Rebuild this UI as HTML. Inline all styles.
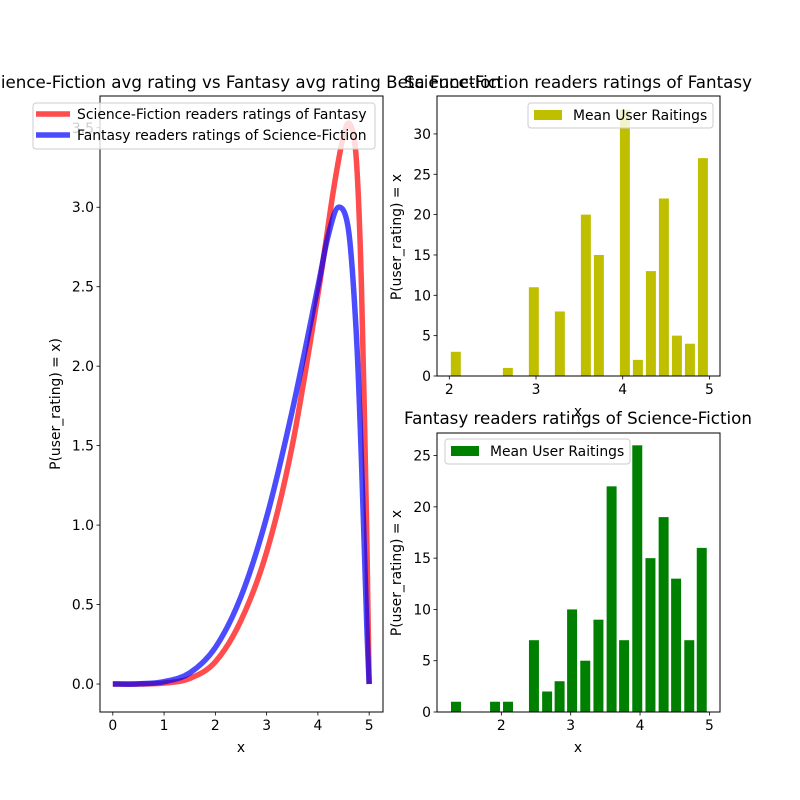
<!DOCTYPE html>
<html><head><meta charset="utf-8"><style>
html,body{margin:0;padding:0;background:#fff;}
svg{display:block;font-family:"DejaVu Sans","Liberation Sans",sans-serif;}
</style></head><body>
<svg id="fig" width="800" height="800" viewBox="0 0 800 800"></svg>
<script>
// ---- data ----
const curveX = [0,0.5,1,1.5,2,2.5,3,3.5,4,4.2,4.4,4.6,4.75,4.85,4.95,5];
const blueVals = [0,0.001,0.015,0.07,0.23,0.55,1.05,1.72,2.5,2.82,3.0,2.85,2.2,1.4,0.4,0];
const redX = [0,0.5,1,1.5,2,2.5,3,3.5,4,4.3,4.5,4.63,4.75,4.85,4.95,5];
const redVals = [0,0,0.006,0.035,0.14,0.4,0.83,1.5,2.45,3.1,3.45,3.52,3.3,2.5,1.0,0];
const leftXTicks = [0,1,2,3,4,5];
const leftYTicks = [0,0.5,1,1.5,2,2.5,3,3.5];

const topCats = [2.075,2.675,2.975,3.275,3.575,3.725,4.025,4.175,4.325,4.475,4.625,4.775,4.925];
const topVals = [3,1,11,8,20,15,33,2,13,22,5,4,27];
const topXTicks = [2,3,4,5];
const topYTicks = [0,5,10,15,20,25,30];

const botCats = [1.346,1.909,2.096,2.47,2.66,2.84,3.02,3.21,3.40,3.59,3.77,3.96,4.15,4.34,4.52,4.71,4.89];
const botVals = [1,1,1,7,2,3,10,5,9,22,7,26,15,19,13,7,16];
const botXTicks = [2,3,4,5];
const botYTicks = [0,5,10,15,20,25];

const NS="http://www.w3.org/2000/svg";
const svg=document.getElementById('fig');
const FS=13.9, TS=16.7;
function mk(tag,attrs,parent){const e=document.createElementNS(NS,tag);for(const k in attrs)e.setAttribute(k,attrs[k]);(parent||svg).appendChild(e);return e;}
function lin(d0,d1,r0,r1){return v=>r0+(v-d0)*(r1-r0)/(d1-d0);}

function axes(box,xd,yd,xt,yt,fmt,name){
  const g=mk('g',{});
  
  
  const sx=lin(xd[0],xd[1],box.x0,box.x1), sy=lin(yd[0],yd[1],box.y1,box.y0);
  xt.forEach(t=>{const x=sx(t);
    const l=mk('line',{x1:x,x2:x,y1:box.y1,y2:box.y1+3.5,stroke:'#000','stroke-width':0.8},g);
    
    const tx=mk('text',{x:x,y:box.y1+18,'text-anchor':'middle','font-size':FS,fill:'#000'},g);tx.textContent=t;
    });
  yt.forEach(t=>{const y=sy(t);
    const l=mk('line',{x1:box.x0-3.5,x2:box.x0,y1:y,y2:y,stroke:'#000','stroke-width':0.8},g);
    
    const tx=mk('text',{x:box.x0-6,y:y+5,'text-anchor':'end','font-size':FS,fill:'#000'},g);tx.textContent=fmt(t);
    });
  return {sx,sy,g};
}
function frame(box){const r=mk('rect',{x:box.x0,y:box.y0,width:box.x1-box.x0,height:box.y1-box.y0,fill:'none',stroke:'#000','stroke-width':1});
  }
function text(x,y,s,size,name,anchor,rot){const t=mk('text',{x:x,y:y,'font-size':size,'text-anchor':anchor||'middle',fill:'#000'});
  if(rot)t.setAttribute('transform','rotate(-90 '+x+' '+y+')');t.textContent=s;
  return t;}
function smoothPath(pts){let d='M'+pts[0][0]+','+pts[0][1];
  for(let i=0;i<pts.length-1;i++){const p0=pts[Math.max(i-1,0)],p1=pts[i],p2=pts[i+1],p3=pts[Math.min(i+2,pts.length-1)];
    const c1=[p1[0]+(p2[0]-p0[0])/6,p1[1]+(p2[1]-p0[1])/6],c2=[p2[0]-(p3[0]-p1[0])/6,p2[1]-(p3[1]-p1[1])/6];
    d+=' C'+c1[0]+','+c1[1]+' '+c2[0]+','+c2[1]+' '+p2[0]+','+p2[1];}
  return d;}

// ---- left chart ----
const L={x0:100,x1:383,y0:96,y1:712};
const la=axes(L,[-0.25,5.27],[-0.176,3.70],leftXTicks,leftYTicks,v=>v.toFixed(1),'left-axes');
const red=mk('path',{d:smoothPath(redX.map((x,i)=>[la.sx(x),la.sy(redVals[i])])),fill:'none',stroke:'rgba(255,0,0,0.7)','stroke-width':5.5});

const blue=mk('path',{d:smoothPath(curveX.map((x,i)=>[la.sx(x),la.sy(blueVals[i])])),fill:'none',stroke:'rgba(0,0,255,0.7)','stroke-width':5.5});

frame(L);
text(241,88,'Science-Fiction avg rating vs Fantasy avg rating Beta Function',TS,'left-chart-title');
text(241,752,'x',FS,'left-x-axis-title');
text(60,404,'P(user_rating) = x)',FS,'left-y-axis-title','middle',true);
const lg=mk('rect',{x:33,y:103,width:342,height:46,rx:3,fill:'rgba(255,255,255,0.8)',stroke:'#ccc'});

let e=mk('line',{x1:36,x2:70,y1:114,y2:114,stroke:'rgba(255,0,0,0.7)','stroke-width':5.5});

text(77,119,'Science-Fiction readers ratings of Fantasy',FS,'legend-entry-scifi','start');
e=mk('line',{x1:36,x2:70,y1:135,y2:135,stroke:'rgba(0,0,255,0.7)','stroke-width':5.5});

text(77,140,'Fantasy readers ratings of Science-Fiction',FS,'legend-entry-fantasy','start');

// ---- top right bars ----
const T={x0:437,x1:720,y0:96,y1:376};
const ta=axes(T,[1.858,5.122],[0,34.7],topXTicks,topYTicks,v=>v,'top-right-axes');
const tw=0.115;
topCats.forEach((c,i)=>{const x0=ta.sx(c-tw/2),x1=ta.sx(c+tw/2),y=ta.sy(topVals[i]);
  const b=mk('rect',{x:x0,y:y,width:x1-x0,height:T.y1-y,fill:'#bfbf00'});
  });
frame(T);
text(578,88,'Science-Fiction readers ratings of Fantasy',TS,'top-right-title');
text(578,416,'x',FS,'top-right-x-axis-title');
text(401,237,'P(user_rating) = x',FS,'top-right-y-axis-title','middle',true);
e=mk('rect',{x:528,y:103,width:185,height:25,rx:3,fill:'rgba(255,255,255,0.8)',stroke:'#ccc'});

e=mk('rect',{x:534,y:110,width:28,height:10,fill:'#bfbf00'});

text(573,120,'Mean User Raitings',FS,'legend-entry-top','start');

// ---- bottom right bars ----
const B={x0:437,x1:720,y0:433,y1:712};
const ba=axes(B,[1.072,5.153],[0,27.2],botXTicks,botYTicks,v=>v,'bottom-right-axes');
const bw=0.144;
botCats.forEach((c,i)=>{const x0=ba.sx(c-bw/2),x1=ba.sx(c+bw/2),y=ba.sy(botVals[i]);
  const b=mk('rect',{x:x0,y:y,width:x1-x0,height:B.y1-y,fill:'#008000'});
  });
frame(B);
text(578,424,'Fantasy readers ratings of Science-Fiction',TS,'bottom-right-title');
text(578,752,'x',FS,'bottom-right-x-axis-title');
text(401,573,'P(user_rating) = x',FS,'bottom-right-y-axis-title','middle',true);
e=mk('rect',{x:445,y:439,width:185,height:25,rx:3,fill:'rgba(255,255,255,0.8)',stroke:'#ccc'});

e=mk('rect',{x:451,y:446,width:28,height:10,fill:'#008000'});

text(490,456,'Mean User Raitings',FS,'legend-entry-bottom','start');
</script>
</body></html>
